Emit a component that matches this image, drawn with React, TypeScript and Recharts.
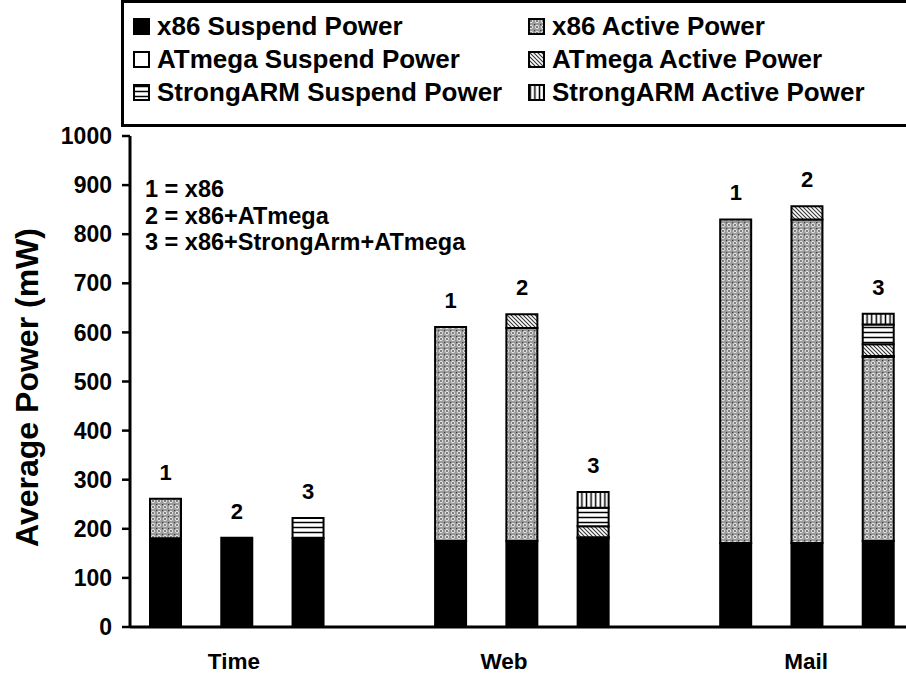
import React from 'react';
import { ComposedChart, Bar, Line, XAxis, YAxis, Legend, LabelList, Customized } from 'recharts';

const FONT = '"Liberation Sans", Arial, Helvetica, sans-serif';

// one entry per bar slot (two empty slots separate the groups)
const slots = ['T1', 'T2', 'T3', 'G1', 'W1', 'W2', 'W3', 'G2', 'M1', 'M2', 'M3'];
const barNumbers = ['1', '2', '3', '', '1', '2', '3', '', '1', '2', '3'];
const groupLabels: Record<string, string> = { T2: 'Time', W2: 'Web', M2: 'Mail' };

const x86Suspend = [181, 182, 181, null, 175, 175, 181, null, 171, 171, 175];
const x86Active = [80, 0, 0, null, 436, 434, 0, null, 659, 659, 375];
const atmegaSuspend = [0, 0, 0, null, 0, 0, 2, null, 0, 0, 2];
const atmegaActive = [0, 0, 0, null, 0, 28, 22, null, 0, 27, 24];
const strongarmSuspend = [0, 0, 41, null, 0, 0, 38, null, 0, 0, 40];
const strongarmActive = [0, 0, 0, null, 0, 0, 32, null, 0, 0, 22];

const yTicks = [0, 100, 200, 300, 400, 500, 600, 700, 800, 900, 1000];
const keyLines = ['1 = x86', '2 = x86+ATmega', '3 = x86+StrongArm+ATmega'];

const series = [
  { key: 'x86S', name: 'x86 Suspend Power', fill: '#000000' },
  { key: 'x86A', name: 'x86 Active Power', fill: 'url(#pX86A)' },
  { key: 'atS', name: 'ATmega Suspend Power', fill: '#ffffff' },
  { key: 'atA', name: 'ATmega Active Power', fill: 'url(#pAtA)' },
  { key: 'saS', name: 'StrongARM Suspend Power', fill: 'url(#pSaS)' },
  { key: 'saA', name: 'StrongARM Active Power', fill: 'url(#pSaA)' },
];

const data = slots.map((slot, i) => {
  const vals = [x86Suspend[i], x86Active[i], atmegaSuspend[i], atmegaActive[i], strongarmSuspend[i], strongarmActive[i]];
  const empty = x86Suspend[i] == null;
  return {
    slot,
    num: barNumbers[i],
    x86S: x86Suspend[i],
    x86A: x86Active[i],
    atS: atmegaSuspend[i],
    atA: atmegaActive[i],
    saS: strongarmSuspend[i],
    saA: strongarmActive[i],
    total: empty ? null : vals.reduce((a: number, b) => a + (b || 0), 0),
  };
});

const labelShift: Record<string, number> = { Time: -3, Web: -18, Mail: -1 };

const CategoryTick = (props: any) => {
  const { x, y, payload } = props;
  const label = groupLabels[payload && payload.value];
  if (!label) return <g />;
  return (
    <text x={x + (labelShift[label] || 0)} y={y + 42} textAnchor="middle" fontFamily={FONT} fontWeight="bold" fontSize={22.5} fill="#000">
      {label}
    </text>
  );
};

const NumberLabel = (props: any) => {
  const { x, y, value } = props;
  if (!value || y == null || isNaN(y)) return null;
  return (
    <text x={x} y={y - 19} textAnchor="middle" fontFamily={FONT} fontWeight="bold" fontSize={22} fill="#000">
      {value}
    </text>
  );
};

const YTitle = (props: any) => {
  const vb = props.viewBox || { y: 136, height: 491 };
  const cx = 38;
  const cy = vb.y + vb.height / 2 + 6;
  return (
    <text x={cx} y={cy} transform={`rotate(-90, ${cx}, ${cy})`} textAnchor="middle" fontFamily={FONT} fontWeight="bold" fontSize={32} fill="#000">
      Average Power (mW)
    </text>
  );
};

const KeyText = () => (
  <g>
    {keyLines.map((t, i) => (
      <text key={t} x={145} y={197 + i * 26.5} fontFamily={FONT} fontWeight="bold" fontSize={23.5} fill="#000">
        {t}
      </text>
    ))}
  </g>
);

const LegendBox = () => {
  const tops = [6, 39, 72];
  return (
    <div
      style={{
        position: 'relative',
        width: 820,
        height: 127,
        boxSizing: 'border-box',
        border: '3px solid #000',
        background: '#fff',
        fontFamily: FONT,
        fontWeight: 'bold',
        fontSize: 26,
        color: '#000',
      }}
    >
      {series.map((s, i) => {
        const col = i % 2;
        const row = Math.floor(i / 2);
        return (
          <div
            key={s.key}
            style={{
              position: 'absolute',
              left: col === 0 ? 9 : 404,
              top: tops[row],
              height: 34,
              lineHeight: '34px',
              display: 'flex',
              alignItems: 'center',
              whiteSpace: 'nowrap',
            }}
          >
            <svg width={17} height={17} style={{ marginRight: 7, display: 'block' }}>
              <rect x={1} y={1} width={15} height={15} fill={s.fill} stroke="#000" strokeWidth={2} />
            </svg>
            <span>{s.name}</span>
          </div>
        );
      })}
    </div>
  );
};

const Patterns = () => (
  <svg width={0} height={0} style={{ position: 'absolute' }}>
    <defs>
      <pattern id="pX86A" patternUnits="userSpaceOnUse" width={6} height={6}>
        <rect width={6} height={6} fill="#9a9a9a" />
        <circle cx={3} cy={3} r={1.9} fill="#f2f2f2" />
        <circle cx={3} cy={3} r={0.9} fill="#4a4a4a" />
        <rect x={0} y={0} width={1.2} height={1.2} fill="#3a3a3a" />
      </pattern>
      <pattern id="pAtA" patternUnits="userSpaceOnUse" width={4} height={4}>
        <rect width={4} height={4} fill="#ffffff" />
        <path d="M-1,-1 L5,5 M3,-1 L5,1 M-1,3 L1,5" stroke="#333" strokeWidth={1.1} />
      </pattern>
      <pattern id="pSaS" patternUnits="userSpaceOnUse" width={8} height={5}>
        <rect width={8} height={5} fill="#ffffff" />
        <line x1={0} y1={2.5} x2={8} y2={2.5} stroke="#000" strokeWidth={1.5} />
      </pattern>
      <pattern id="pSaA" patternUnits="userSpaceOnUse" width={4.6} height={8}>
        <rect width={4.6} height={8} fill="#ffffff" />
        <line x1={2.3} y1={0} x2={2.3} y2={8} stroke="#000" strokeWidth={1.5} />
      </pattern>
    </defs>
  </svg>
);

export default function App() {
  return (
    <div style={{ position: 'absolute', left: 0, top: 0, width: 906, height: 677, overflow: 'hidden', background: '#fff' }}>
      <Patterns />
      <ComposedChart width={920} height={677} data={data} margin={{ top: 9, right: 6, left: 0, bottom: 0 }}>
        <Legend verticalAlign="top" align="left" content={() => <LegendBox />} wrapperStyle={{ top: 0, left: 121, width: 820, height: 127 }} />
        <XAxis
          dataKey="slot"
          type="category"
          interval={0}
          tickLine={false}
          tickSize={0}
          tickMargin={0}
          axisLine={{ stroke: '#000', strokeWidth: 3 }}
          height={50}
          tick={<CategoryTick />}
        />
        <YAxis
          type="number"
          domain={[0, 1000]}
          ticks={yTicks}
          interval={0}
          width={130}
          tickSize={8}
          tickMargin={10}
          axisLine={{ stroke: '#000', strokeWidth: 3 }}
          tickLine={{ stroke: '#000', strokeWidth: 2.5 }}
          tick={{ fontFamily: FONT, fontWeight: 'bold', fontSize: 23, fill: '#000' }}
          label={YTitle}
        />
        {series.map((s) => (
          <Bar
            key={s.key}
            dataKey={s.key}
            name={s.name}
            stackId="a"
            fill={s.fill}
            stroke="#000"
            strokeWidth={2}
            barSize={31}
            isAnimationActive={false}
          />
        ))}
        <Line dataKey="total" stroke="none" dot={false} activeDot={false} legendType="none" isAnimationActive={false}>
          <LabelList dataKey="num" content={NumberLabel} />
        </Line>
        <Customized component={KeyText} />
      </ComposedChart>
    </div>
  );
}
